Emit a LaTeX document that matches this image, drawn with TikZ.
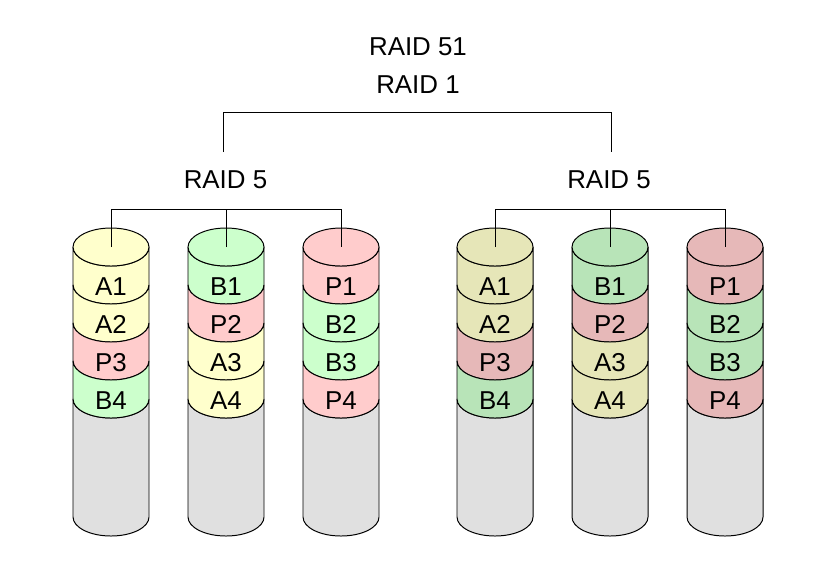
\documentclass[tikz,border=0pt]{standalone}
\usepackage{fontspec}
\setmainfont{Liberation Sans}
\usetikzlibrary{positioning,calc}

\definecolor{yelA}{RGB}{255,255,204}
\definecolor{grnA}{RGB}{204,255,204}
\definecolor{redA}{RGB}{255,204,204}
\definecolor{yelB}{RGB}{230,230,184}
\definecolor{grnB}{RGB}{184,228,184}
\definecolor{redB}{RGB}{230,184,184}
\definecolor{body}{RGB}{224,224,224}

\tikzstyle{disk} = [draw, line width=0.7pt]
\tikzstyle{wire} = [draw, line width=0.7pt]
\tikzstyle{txt} = [font=\fontsize{18.4}{22}\selectfont, inner sep=0pt]

% one slice of a disk: x, top y, height, colour
\newcommand{\band}[4]{%
  \path[disk, fill=#4] (#1-38,#2) arc (180:360:38 and 19)
    -- (#1+38,#2-#3) arc (360:180:38 and 19) -- cycle;
}

\begin{document}
\begin{tikzpicture}[x=0.025cm, y=0.025cm]
    \fill[white] (0,0) rectangle (840,-575);

    \foreach \n/\x/\ta/\ca/\tb/\cb/\tc/\cc/\td/\cd in {
        1/111/A1/yelA/A2/yelA/P3/redA/B4/grnA,
        2/226/B1/grnA/P2/redA/A3/yelA/A4/yelA,
        3/341/P1/redA/B2/grnA/B3/grnA/P4/redA,
        4/495/A1/yelB/A2/yelB/P3/redB/B4/grnB,
        5/610/B1/grnB/P2/redB/A3/yelB/A4/yelB,
        6/725/P1/redB/B2/grnB/B3/grnB/P4/redB} {
      \band{\x}{-399}{118}{body}
      \band{\x}{-247}{38}{\ca}
      \band{\x}{-285}{38}{\cb}
      \band{\x}{-323}{38}{\cc}
      \band{\x}{-361}{38}{\cd}
      \draw[disk, fill=\ca] (\x,-247) ellipse (38 and 19);
      \coordinate (top\n) at (\x,-247);
      \node[txt] (d\n a) at (\x,-286.5) {\ta};
      \node[txt] (d\n b) at (\x,-324.5) {\tb};
      \node[txt] (d\n c) at (\x,-362.5) {\tc};
      \node[txt] (d\n d) at (\x,-400.5) {\td};
    }

    \node[txt] (raid51) at (418,-46.5) {RAID 51};
    \node[txt] (raid1) at (418,-85) {RAID 1};
    \node[txt] (raid5l) at (225.5,-179.5) {RAID 5};
    \node[txt] (raid5r) at (609,-179.5) {RAID 5};

    % mirror
    \path (raid1.south) ++(0,-18) coordinate (bar1);
    \draw[wire] ($(raid5l.north)+(-2.5,18)$) |- (bar1) -| ($(raid5r.north)+(2,18)$);

    % parity groups
    \draw[wire] (top2) -- ++(0,38) coordinate (bar5l);
    \draw[wire] (top1) |- (bar5l) -| (top3);
    \draw[wire] (top5) -- ++(0,38) coordinate (bar5r);
    \draw[wire] (top4) |- (bar5r) -| (top6);
\end{tikzpicture}
\end{document}
